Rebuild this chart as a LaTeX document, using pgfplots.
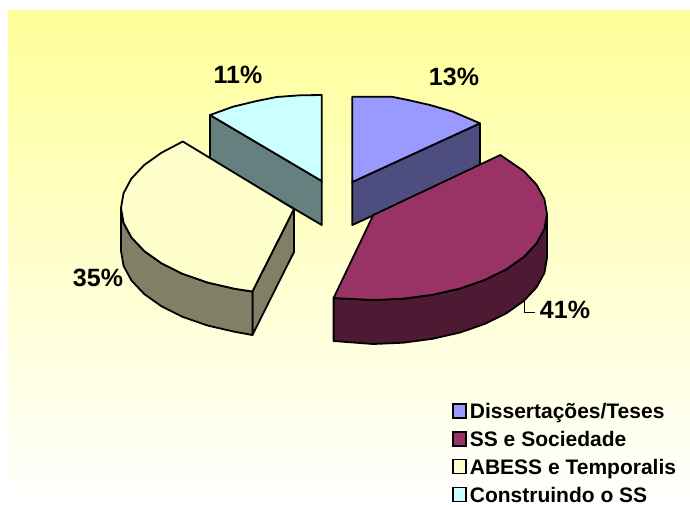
\documentclass[border=0pt]{standalone}
\usepackage{fontspec}
\setmainfont{Liberation Sans}
\usepackage{pgfplots}
\pgfplotsset{compat=1.18}
\definecolor{bgtop}{HTML}{FFFF99}
\definecolor{cA}{HTML}{9999FF}\definecolor{cAw}{HTML}{4D4D80}
\definecolor{cB}{HTML}{993366}\definecolor{cBw}{HTML}{4D1933}
\definecolor{cC}{HTML}{FFFFCC}\definecolor{cCw}{HTML}{808066}
\definecolor{cD}{HTML}{CCFFFF}\definecolor{cDw}{HTML}{668080}
\pgfplotsset{
  pie/.style={draw=black,line width=1.8pt,line join=round,mark=none},
  sq/.style={legend image code/.code={\draw[#1,draw=black,line width=1.4pt,fill] (0pt,-7pt) rectangle (13pt,7pt);\path[draw=none,fill=none] (0pt,0pt) rectangle (17pt,0.1pt);}},
}
\begin{document}
\begin{tikzpicture}
\begin{axis}[
  scale only axis,width=690pt,height=504pt,
  xmin=0,xmax=690,ymin=0,ymax=504,y dir=reverse,
  axis lines=none,clip=false,
  legend style={at={(axis cs:452,403)},anchor=north west,draw=none,fill=none,overlay,
    font=\fontsize{21}{21}\selectfont\bfseries,row sep=12.5pt,inner sep=0pt,
    nodes={inner sep=0pt,text depth=0pt}},
  legend cell align=left,
]
% page and panel
\addplot[draw=none,fill=white,forget plot] coordinates {(0,0)(690,0)(690,504)(0,504)} --cycle;
\addplot[draw=none,top color=bgtop,bottom color=white,forget plot] coordinates {(8,10)(690,10)(690,504)(8,504)} --cycle;
% Construindo o SS: wall and top
\addplot[pie,fill=cDw,forget plot] coordinates {(210,115)(321.7,181)(321.7,225)(210,159)} --cycle;
\addplot[pie,fill=cD,forget plot] coordinates {(321.7,181)(210,115)(233,106.7)(256.7,101)(276.7,97)(300,95.3)(321.7,95)} --cycle;
% Dissertacoes/Teses: wall and top
\addplot[pie,fill=cAw,forget plot] coordinates {(352.3,182)(480,123.3)(480,166.6)(352.3,225)} --cycle;
\addplot[pie,fill=cA,forget plot] coordinates {(352.3,182)(352.3,96.7)(391.7,96.7)(408,100)(430,105)(453,111.7)(480,123.3)} --cycle;
% ABESS e Temporalis: inner wall, outer wall, top
\addplot[pie,fill=cCw,forget plot] coordinates {(294,209)(294,252)(252.4,335)(252.4,291.5)} --cycle;
\addplot[pie,fill=cCw,forget plot] coordinates {(252.4,291.5)(234.8,288.8)(207.5,282.5)(182.8,273.9)(161.5,263.3)(144.2,251)(131.4,237.4)(123.6,222.9)(121,208)(121,251)(123.6,265.9)(131.4,280.4)(144.2,294)(161.5,306.3)(182.8,316.9)(207.5,325.5)(234.8,331.8)(252.4,335)} --cycle;
\addplot[pie,fill=cC,forget plot] coordinates {(294,209)(252.4,291.5)(234.8,288.8)(207.5,282.5)(182.8,273.9)(161.5,263.3)(144.2,251)(131.4,237.4)(123.6,222.9)(121,208)(123.6,193.1)(131.4,178.6)(144.2,165)(161.5,152.7)(182.8,141.5)} --cycle;
% SS e Sociedade: outer wall, top
\addplot[pie,fill=cBw,forget plot] coordinates {(547,214)(544.4,228.9)(536.5,243.4)(523.7,257)(506.3,269.3)(484.8,279.9)(460,288.5)(432.5,294.8)(403.2,298.7)(373,300)(333.6,298)(333.6,341)(373,344)(403.2,342.7)(432.5,338.8)(460,332.5)(484.8,323.9)(506.3,313.3)(523.7,301)(536.5,287.4)(544.4,272.9)(547,258)} --cycle;
\addplot[pie,fill=cB,forget plot] coordinates {(373.3,215)(500.3,155)(523.7,171)(536.5,184.6)(544.4,199.1)(547,214)(544.4,228.9)(536.5,243.4)(523.7,257)(506.3,269.3)(484.8,279.9)(460,288.5)(432.5,294.8)(403.2,298.7)(373,300)(333.6,298)} --cycle;
% leader line of the 41% label
\addplot[black,line width=1pt,mark=none,forget plot] coordinates {(524,300)(524,312.5)(535,312.5)};
% labels
\node[font=\fontsize{25}{25}\selectfont\bfseries] at (axis cs:454,77) {13\%};
\node[font=\fontsize{25}{25}\selectfont\bfseries] at (axis cs:565,310) {41\%};
\node[font=\fontsize{25}{25}\selectfont\bfseries] at (axis cs:98,278) {35\%};
\node[font=\fontsize{25}{25}\selectfont\bfseries] at (axis cs:238,75) {11\%};
% legend
\addlegendimage{sq,fill=cA}\addlegendentry{Dissertações/Teses}
\addlegendimage{sq,fill=cB}\addlegendentry{SS e Sociedade}
\addlegendimage{sq,fill=cC}\addlegendentry{ABESS e Temporalis}
\addlegendimage{sq,fill=cD}\addlegendentry{Construindo o SS}
\end{axis}
\end{tikzpicture}
\end{document}
